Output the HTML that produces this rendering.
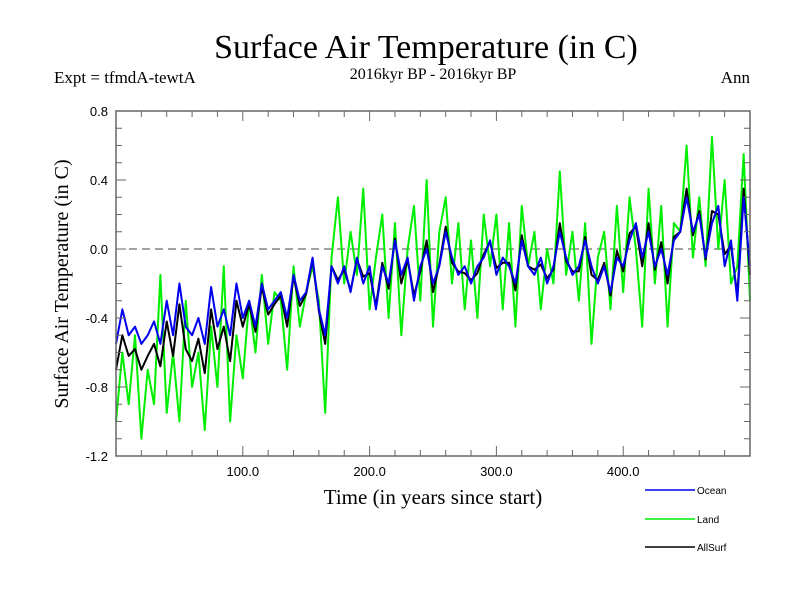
<!DOCTYPE html>
<html><head><meta charset="utf-8"><style>
body{margin:0;background:#fff;width:800px;height:600px;overflow:hidden}
svg text{font-family:"Liberation Serif",serif}
</style></head><body>
<svg id="chart" width="800" height="600" xmlns="http://www.w3.org/2000/svg">
<text x="426" y="58" font-size="34" text-anchor="middle">Surface Air Temperature (in C)</text>
<text x="433" y="79" font-size="16" text-anchor="middle">2016kyr BP - 2016kyr BP</text>
<text x="54" y="83" font-size="17">Expt = tfmdA-tewtA</text>
<text x="750" y="83" font-size="17" text-anchor="end">Ann</text>
<text transform="translate(68,284) rotate(-90)" font-size="20" text-anchor="middle">Surface Air Temperature (in C)</text>
<text x="433" y="504" font-size="21" text-anchor="middle">Time (in years since start)</text>
<g id="plot"></g>
<g id="legend"></g>
</svg>
<script>
const years=[];for(let i=0;i<=100;i++)years.push(i*5);
const ocean=[-0.55,-0.35,-0.5,-0.45,-0.55,-0.5,-0.42,-0.55,-0.3,-0.5,
-0.2,-0.45,-0.5,-0.4,-0.55,-0.22,-0.45,-0.35,-0.5,-0.2,
-0.4,-0.3,-0.45,-0.2,-0.35,-0.3,-0.25,-0.4,-0.15,-0.3,
-0.25,-0.05,-0.35,-0.5,-0.1,-0.2,-0.1,-0.25,-0.05,-0.2,
-0.1,-0.35,-0.1,-0.2,0.05,-0.15,-0.05,-0.3,-0.1,0.0,
-0.2,-0.1,0.1,-0.05,-0.15,-0.1,-0.2,-0.1,-0.05,0.05,
-0.15,-0.05,-0.1,-0.2,0.05,-0.1,-0.15,-0.05,-0.2,-0.1,
0.1,-0.05,-0.15,-0.1,0.05,-0.1,-0.2,-0.1,-0.25,-0.05,
-0.1,0.05,0.15,-0.05,0.1,-0.1,0.0,-0.15,0.05,0.1,
0.3,0.1,0.2,-0.05,0.15,0.25,-0.1,0.05,-0.3,0.3,-0.1];
const land=[-1.0,-0.6,-0.9,-0.5,-1.1,-0.7,-0.9,-0.15,-0.95,-0.6,
-1.0,-0.3,-0.8,-0.6,-1.05,-0.45,-0.8,-0.1,-1.0,-0.5,
-0.75,-0.3,-0.6,-0.15,-0.55,-0.25,-0.3,-0.7,-0.1,-0.45,
-0.25,-0.1,-0.3,-0.95,-0.05,0.3,-0.2,0.1,-0.15,0.35,
-0.35,-0.05,0.2,-0.4,0.15,-0.5,0.0,0.25,-0.3,0.4,
-0.45,0.1,0.3,-0.2,0.15,-0.35,0.05,-0.4,0.2,-0.1,
0.2,-0.35,0.15,-0.45,0.25,-0.1,0.1,-0.35,0.0,-0.2,
0.45,-0.15,0.1,-0.3,0.15,-0.55,-0.05,0.1,-0.35,0.25,
-0.25,0.3,0.0,-0.45,0.35,-0.2,0.25,-0.45,0.15,0.1,
0.6,-0.05,0.3,-0.1,0.65,0.0,0.4,-0.2,-0.1,0.55,-0.3];
const allsurf=[-0.7,-0.5,-0.62,-0.58,-0.7,-0.62,-0.55,-0.68,-0.42,-0.62,
-0.32,-0.58,-0.65,-0.52,-0.72,-0.35,-0.58,-0.45,-0.65,-0.3,
-0.45,-0.32,-0.48,-0.22,-0.38,-0.32,-0.27,-0.45,-0.16,-0.33,
-0.26,-0.06,-0.36,-0.55,-0.1,-0.18,-0.12,-0.24,-0.06,-0.16,
-0.14,-0.33,-0.08,-0.23,0.06,-0.2,-0.06,-0.27,-0.13,0.05,
-0.25,-0.09,0.13,-0.08,-0.13,-0.14,-0.18,-0.14,-0.03,0.04,
-0.11,-0.08,-0.08,-0.24,0.08,-0.1,-0.12,-0.09,-0.17,-0.12,
0.15,-0.07,-0.13,-0.13,0.07,-0.15,-0.18,-0.08,-0.27,-0.01,
-0.13,0.09,0.13,-0.1,0.15,-0.12,0.04,-0.2,0.07,0.1,
0.35,0.08,0.22,-0.06,0.22,0.2,-0.03,0.02,-0.27,0.35,-0.15];
const yTicks=[0.8,0.4,0.0,-0.4,-0.8,-1.2];
const yTickLabels=["0.8","0.4","0.0","-0.4","-0.8","-1.2"];
const xTicks=[100,200,300,400];
const xTickLabels=["100.0","200.0","300.0","400.0"];
const L=116,R=750,T=111,B=456,xMin=0,xMax=500,yMin=-1.2,yMax=0.8;
const sx=v=>L+(v-xMin)/(xMax-xMin)*(R-L);
const sy=v=>B-(v-yMin)/(yMax-yMin)*(B-T);
const NS='http://www.w3.org/2000/svg';
const plot=document.getElementById('plot');
function mk(tag,attrs,parent){const e=document.createElementNS(NS,tag);for(const k in attrs)e.setAttribute(k,attrs[k]);parent.appendChild(e);return e;}
const zl=mk('line',{x1:L,x2:R,y1:sy(0),y2:sy(0),stroke:'#444','stroke-width':1,'stroke-dasharray':'8,5'},plot);


function series(vals,color,name){
  const p=mk('polyline',{points:vals.map((v,i)=>sx(years[i])+','+sy(v)).join(' '),fill:'none',stroke:color,'stroke-width':2,'stroke-linejoin':'round'},plot);
  
  
}
series(land,'#00ee00','land-series');
series(allsurf,'#000','allsurf-series');
series(ocean,'#0000ee','ocean-series');
const fr=mk('rect',{x:L,y:T,width:R-L,height:B-T,fill:'none',stroke:'#666','stroke-width':1.5},plot);


for(let v=-1.2;v<=0.801;v+=0.1){const y=sy(v);const major=Math.abs(Math.round(v*10)%4)===0;const len=major?10:6;
  mk('line',{x1:L,x2:L+len,y1:y,y2:y,stroke:'#666'},plot);mk('line',{x1:R,x2:R-len,y1:y,y2:y,stroke:'#666'},plot);}
for(let v=20;v<500;v+=20){const x=sx(v);const major=v%100===0;const len=major?10:6;
  mk('line',{x1:x,x2:x,y1:B,y2:B-len,stroke:'#666'},plot);mk('line',{x1:x,x2:x,y1:T,y2:T+len,stroke:'#666'},plot);}
yTicks.forEach((v,i)=>{const t=mk('text',{x:L-8,y:sy(v)+5,'font-size':13,'text-anchor':'end',style:'font-family:"Liberation Sans",sans-serif'},plot);t.textContent=yTickLabels[i];
  
  });
xTicks.forEach((v,i)=>{const t=mk('text',{x:sx(v),y:B+20,'font-size':13,'text-anchor':'middle',style:'font-family:"Liberation Sans",sans-serif'},plot);t.textContent=xTickLabels[i];
  
  });
const leg=document.getElementById('legend');
[['Ocean','#0000ee',490],['Land','#00ee00',519],['AllSurf','#000',547]].forEach(([n,c,y])=>{
  const g=mk('g',{},leg);
  
  
  mk('line',{x1:645,x2:695,y1:y,y2:y,stroke:c,'stroke-width':1.5},g);
  const t=mk('text',{x:697,y:y+4,'font-size':10,style:'font-family:"Liberation Sans",sans-serif'},g);t.textContent=n;
});
</script>
</body></html>
